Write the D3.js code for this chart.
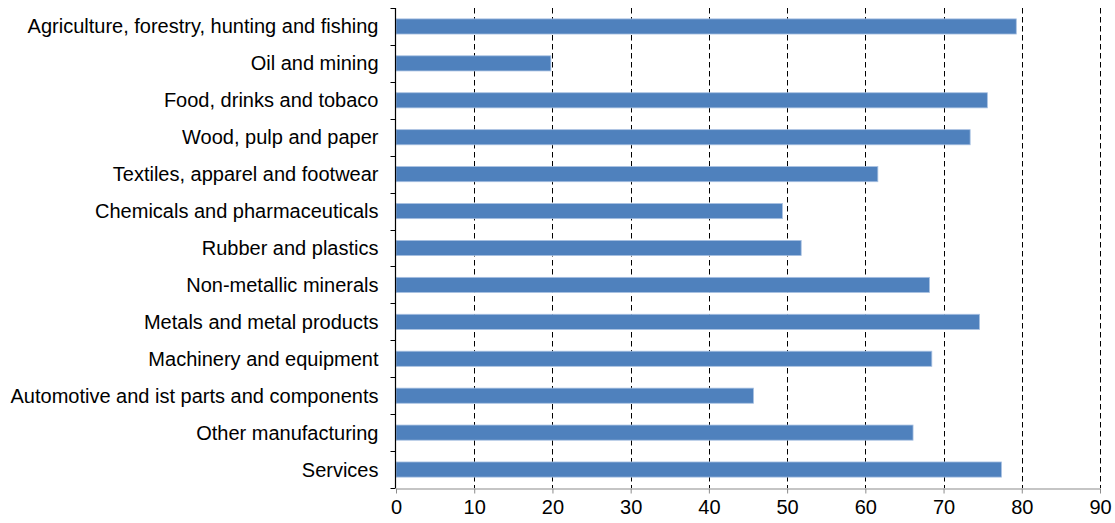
<!DOCTYPE html>
<html>
<head>
<meta charset="utf-8">
<script src="https://cdn.jsdelivr.net/npm/d3@7"></script>
<style>
  html, body { margin: 0; padding: 0; background: #fff; }
  svg { display: block; }
  text { font-family: "Liberation Sans", Arial, sans-serif; fill: #000; }
</style>
</head>
<body>
<svg id="chart" width="1115" height="523"></svg>
<script>
// Sector labels, top to bottom
const sectors = [
  "Agriculture, forestry, hunting and fishing",
  "Oil and mining",
  "Food, drinks and tobaco",
  "Wood, pulp and paper",
  "Textiles, apparel and footwear",
  "Chemicals and pharmaceuticals",
  "Rubber and plastics",
  "Non-metallic minerals",
  "Metals and metal products",
  "Machinery and equipment",
  "Automotive and ist parts and components",
  "Other manufacturing",
  "Services"
];
// Value for each sector
const values = [79.3, 19.8, 75.6, 73.4, 61.6, 49.4, 51.8, 68.2, 74.6, 68.5, 45.7, 66.1, 77.4];
// X axis ticks
const xTicks = [0, 10, 20, 30, 40, 50, 60, 70, 80, 90];

const svg = d3.select("#chart");
const margin = { left: 396, right: 15, top: 8, bottom: 35 };
const W = 1115, H = 523;

const x = d3.scaleLinear().domain([0, 90]).range([margin.left, W - margin.right]);
const y = d3.scaleBand().domain(sectors).range([margin.top, H - margin.bottom])
  .paddingInner(0.59).paddingOuter(0.295);
const yEdges = d3.scaleBand().domain(sectors).range([margin.top, H - margin.bottom]);

// Dashed vertical gridlines
svg.append("g")
  .selectAll("line")
  .data(xTicks.filter(d => d > 0))
  .join("line")
  .attr("x1", d => Math.round(x(d)) + 0.5)
  .attr("x2", d => Math.round(x(d)) + 0.5)
  .attr("y1", margin.top)
  .attr("y2", H - margin.bottom)
  .attr("stroke", "#000")
  .attr("stroke-width", 1)
  .attr("stroke-dasharray", "5.5,3.5");

// Bars
svg.append("g")
  .selectAll("rect")
  .data(values)
  .join("rect")
  .attr("x", x(0))
  .attr("y", (d, i) => y(sectors[i]))
  .attr("width", d => x(d) - x(0))
  .attr("height", y.bandwidth())
  .attr("fill", "#4F81BD")
  .attr("stroke", "#A9C1E2")
  .attr("stroke-width", 0.8);

// X axis
const xAxis = svg.append("g")
  .attr("transform", `translate(0,${H - margin.bottom + 0.5})`)
  .call(d3.axisBottom(x).tickValues(xTicks).tickSize(5).tickSizeOuter(0).tickPadding(6));
xAxis.select(".domain").attr("stroke", "#8c8c8c").attr("stroke-width", 1.2);
xAxis.selectAll(".tick line").attr("stroke", "#8c8c8c");
xAxis.selectAll(".tick text").attr("font-size", 20).style("fill", "#000");

// Y axis: line with ticks at category boundaries
const yg = svg.append("g").attr("transform", `translate(${x(0) - 0.5},0)`);
yg.append("line")
  .attr("x1", 0).attr("x2", 0)
  .attr("y1", margin.top).attr("y2", H - margin.bottom)
  .attr("stroke", "#000").attr("stroke-width", 1.2);
const edges = sectors.map(s => yEdges(s)).concat([H - margin.bottom]);
yg.selectAll("line.edge")
  .data(edges)
  .join("line")
  .attr("class", "edge")
  .attr("x1", -5).attr("x2", 0)
  .attr("y1", d => Math.round(d) + 0.5).attr("y2", d => Math.round(d) + 0.5)
  .attr("stroke", "#000");

yg.selectAll("text")
  .data(sectors)
  .join("text")
  .attr("x", -17)
  .attr("y", d => y(d) + y.bandwidth() / 2)
  .attr("dy", "0.35em")
  .attr("text-anchor", "end")
  .attr("font-size", 20)
  .text(d => d);
</script>
</body>
</html>
